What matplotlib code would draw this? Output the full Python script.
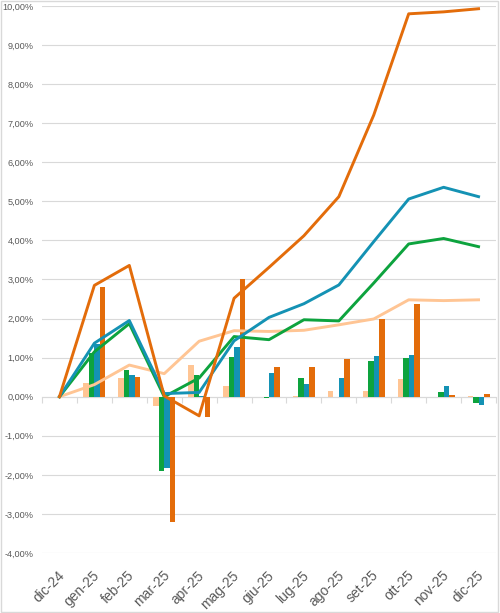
import matplotlib.pyplot as plt
import numpy as np
from matplotlib.ticker import FuncFormatter
from matplotlib.patches import Rectangle
from matplotlib.transforms import ScaledTranslation

plt.rcParams['font.family'] = ['Liberation Sans', 'DejaVu Sans']

mesi = ['dic-24', 'gen-25', 'feb-25', 'mar-25', 'apr-25', 'mag-25', 'giu-25',
        'lug-25', 'ago-25', 'set-25', 'ott-25', 'nov-25', 'dic-25']

# variazioni mensili (%), da gen-25
mese_a = [0.35, 0.48, -0.24, 0.80, 0.28, -0.01, 0.01, 0.15, 0.14, 0.46, -0.01, 0.02]
mese_b = [1.13, 0.69, -1.89, 0.56, 1.01, -0.04, 0.48, -0.01, 0.92, 0.98, 0.11, -0.17]
mese_c = [1.35, 0.55, -1.83, 0.02, 1.27, 0.61, 0.33, 0.48, 1.03, 1.06, 0.27, -0.20]
mese_d = [2.82, 0.51, -3.21, -0.52, 3.01, 0.77, 0.77, 0.96, 1.99, 2.37, 0.04, 0.07]

# rendimento cumulato (%)
cum_a = [0, 0.31, 0.81, 0.59, 1.42, 1.69, 1.67, 1.70, 1.84, 1.99, 2.48, 2.46, 2.48]
cum_b = [0, 1.15, 1.87, 0.00, 0.48, 1.54, 1.46, 1.97, 1.94, 2.91, 3.91, 4.05, 3.84]
cum_c = [0, 1.37, 1.95, 0.08, 0.11, 1.43, 2.03, 2.38, 2.86, 3.97, 5.06, 5.36, 5.12]
cum_d = [0, 2.85, 3.36, 0.02, -0.49, 2.52, 3.31, 4.12, 5.12, 7.21, 9.80, 9.85, 9.93]

colori = ['#FFC594', '#0DA33E', '#1492B4', '#E36C0A']
grigio = '#595959'

x = np.arange(len(mesi))
fig = plt.figure(figsize=(5, 6.13), dpi=100)
ax = fig.add_axes([0.084, 1 - 553 / 613, 0.908, 547 / 613])

w = 0.157
for k, (vals, col) in enumerate(zip([mese_a, mese_b, mese_c, mese_d], colori)):
    ax.bar(x[1:] + (k - 1.5) * w, vals, w, color=col, zorder=2)

for vals, col in zip([cum_a, cum_b, cum_c, cum_d], colori):
    ax.plot(x, vals, color=col, lw=2.1, zorder=3, solid_joinstyle='round')

ax.set_ylim(-4, 10)
ax.set_xlim(-0.5, len(mesi) - 0.5)
ax.set_yticks(np.arange(-4, 11, 1))
ax.yaxis.set_major_formatter(FuncFormatter(lambda v, p: f'{v:.2f}%'.replace('.', ',')))
ax.tick_params(axis='y', length=0, labelsize=6.6, labelcolor=grigio, pad=6)
ax.grid(axis='y', color='#D9D9D9', lw=0.8, zorder=0)
for s in ['top', 'right', 'left']:
    ax.spines[s].set_visible(False)

# asse x sullo zero con tacche tra le categorie
ax.spines['bottom'].set_position(('data', 0))
ax.spines['bottom'].set_color('#D9D9D9')
ax.spines['bottom'].set_zorder(1)
ax.set_xticks(np.arange(-0.5, len(mesi), 1))
ax.tick_params(axis='x', length=4, color='#D9D9D9', labelbottom=False)

sec = ax.secondary_xaxis('bottom')
sec.set_xticks(x, labels=mesi)
sec.spines['bottom'].set_visible(False)
sec.tick_params(length=0, pad=11, labelsize=10, labelcolor=grigio)
for lab in sec.get_xticklabels():
    lab.set_rotation(45)
    lab.set_ha('right')
    lab.set_va('top')
    lab.set_rotation_mode('anchor')
    lab.set_transform(lab.get_transform() + ScaledTranslation(-0.02, 0, fig.dpi_scale_trans))

fig.add_artist(Rectangle((0.001, 0.001), 497 / 500, 611 / 613, transform=fig.transFigure,
                         fill=False, edgecolor='#D9D9D9', lw=1))

fig.savefig('out.png', dpi=100)
